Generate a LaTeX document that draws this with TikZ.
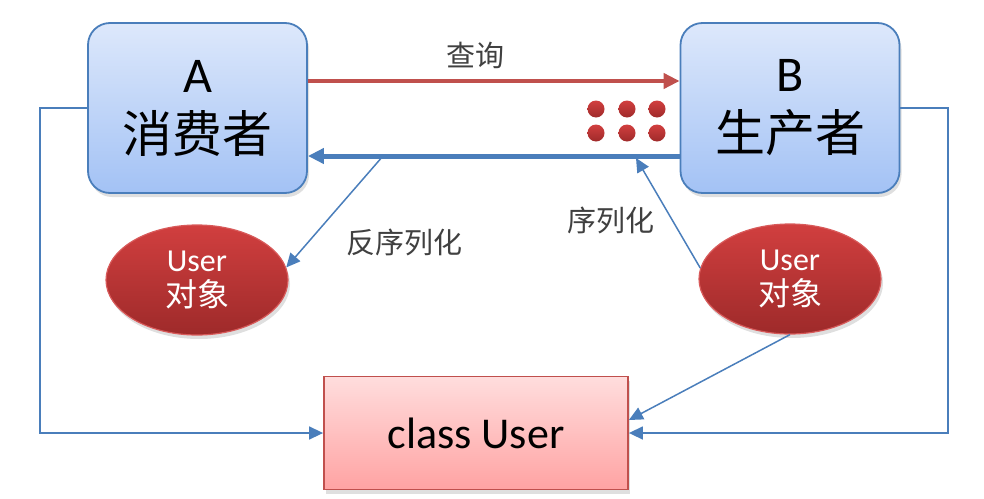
\documentclass[tikz,border=0pt]{standalone}
\usepackage{fontspec}
\setmainfont{Carlito}
\newfontfamily\cjk{Noto Sans CJK SC}
\usepackage{tikz}
\usetikzlibrary{arrows.meta,shapes.geometric,shadows,calc}
\definecolor{boxtop}{HTML}{DDE8FB}
\definecolor{boxbot}{HTML}{A3C2F5}
\definecolor{boxline}{HTML}{4A7EBB}
\definecolor{redline}{HTML}{C0504D}
\definecolor{objtop}{HTML}{D13F3F}
\definecolor{objbot}{HTML}{9E2A2A}
\definecolor{objline}{HTML}{D85A5A}
\definecolor{clstop}{HTML}{FFDDDD}
\definecolor{clsbot}{HTML}{FFA3A3}
\definecolor{labgray}{HTML}{404040}
\tikzset{
  shad/.style={drop shadow={shadow xshift=2pt, shadow yshift=-4pt, opacity=0.25}},
  pbox/.style={shad, draw=boxline, line width=1.8pt, rounded corners=22pt, top color=boxtop, bottom color=boxbot,
    minimum width=219pt, minimum height=170pt, align=center, font=\fontsize{50}{60}\selectfont},
  obj/.style={shad, ellipse, draw=objline, line width=1.2pt, top color=objtop, bottom color=objbot,
    minimum width=182pt, minimum height=110pt, inner sep=0pt, align=center, text=white, font=\fontsize{32}{35}\selectfont},
  cls/.style={shad, draw=redline, line width=1.8pt, top color=clstop, bottom color=clsbot,
    minimum width=304pt, minimum height=113pt, font=\fontsize{44}{48}\selectfont},
  qry/.style={draw=redline, line width=4pt, -{Triangle[length=16pt,width=15pt]}},
  ret/.style={draw=boxline, line width=5pt, -{Triangle[length=16pt,width=15pt]}},
  thin/.style={draw=boxline, line width=1.5pt, -{Triangle[length=14pt,width=13pt]}},
  lab/.style={text=labgray, font=\cjk\fontsize{29}{32}\selectfont},
}
\begin{document}
\begin{tikzpicture}[x=1pt, y=-1pt]
\useasboundingbox (0,0) rectangle (984,498);
% parties
\node[pbox] (A) at (197.5,108) {A\\{\cjk 消费者}};
\node[pbox] (B) at (790,108) {B\\{\cjk 生产者}};
% objects
\node[obj] (oA) at (197,280) {User\\{\cjk 对象}};
\node[obj] (oB) at (790,279) {User\\{\cjk 对象}};
\node[cls] (C) at (476,433) {class User};
% request and reply
\draw[qry] ([yshift=27pt]A.east) -- ([yshift=27pt]B.west);
\draw[ret] ([yshift=-48pt]B.west) -- ([yshift=-48pt]A.east);
\node[lab] at (475,55) {查询};
\foreach \x in {596,627,657}
  \foreach \y in {109,133}
    \shade[top color=objtop, bottom color=objbot] (\x,\y) circle (8.5);
% (de)serialization
\coordinate (dsA) at (383,156);
\coordinate (sB) at (636,158);
\draw[thin] (dsA) -- (oA.8);
\draw[thin] (oB.173) -- (sB);
\node[lab] (dslab) at (404,242) {反序列化};
\node[lab] (slab) at (611,220) {序列化};
% class links
\coordinate (lA) at (40,433);
\coordinate (rB) at (948,433);
\draw[thin] (A.west) -| (lA) -- (C.west);
\draw[thin] (B.east) -| (rB) -- (C.east);
\draw[thin] (oB.south) -- ([yshift=13pt]C.east);
\end{tikzpicture}
\end{document}
